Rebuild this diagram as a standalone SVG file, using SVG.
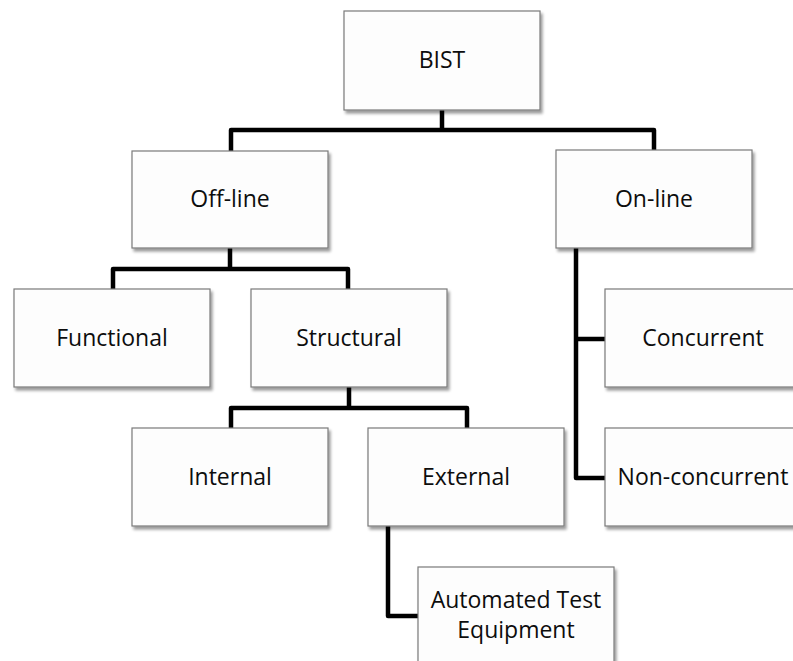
<svg xmlns="http://www.w3.org/2000/svg" width="793" height="661" viewBox="0 0 793 661">
  <defs>
    <filter id="shadow" x="-10%" y="-10%" width="125%" height="130%">
      <feGaussianBlur in="SourceAlpha" stdDeviation="1.5"/>
      <feOffset dx="1.5" dy="2.5" result="off"/>
      <feComponentTransfer><feFuncA type="linear" slope="0.4"/></feComponentTransfer>
      <feMerge><feMergeNode/><feMergeNode in="SourceGraphic"/></feMerge>
    </filter>
  </defs>
  <style>
    .box { fill: #fdfdfd; stroke: #7a7a7a; stroke-width: 1.2; filter: url(#shadow); }
    .label { font-family: "Open Sans", "Noto Sans", sans-serif; font-size: 23px; fill: #0d0d0d; text-anchor: middle; }
    .wire { fill: none; stroke: #000; stroke-width: 4.5; stroke-linejoin: round; stroke-linecap: butt; }
  </style>
  <rect width="793" height="661" fill="#fff"/>

  <g id="connectors">
    <path class="wire" d="M442,110 V130 M231,151 V130 H654 V150"/>
    <path class="wire" d="M230,248 V269 M113,289 V269 H348 V289"/>
    <path class="wire" d="M349,387 V408 M231,428 V408 H467 V428"/>
    <path class="wire" d="M576,248 V478 H605 M576,339 H605"/>
    <path class="wire" d="M388,526 V616 H418"/>
  </g>

  <g id="bist">
    <rect class="box" x="344" y="11" width="196" height="99"/>
    <text class="label" x="442" y="68">BIST</text>
  </g>
  <g id="offline">
    <rect class="box" x="132" y="151" width="196" height="97"/>
    <text class="label" x="230" y="207">Off-line</text>
  </g>
  <g id="online">
    <rect class="box" x="556" y="150" width="196" height="98"/>
    <text class="label" x="654" y="207">On-line</text>
  </g>
  <g id="functional">
    <rect class="box" x="14" y="289" width="196" height="98"/>
    <text class="label" x="112" y="346">Functional</text>
  </g>
  <g id="structural">
    <rect class="box" x="251" y="289" width="196" height="98"/>
    <text class="label" x="349" y="346">Structural</text>
  </g>
  <g id="concurrent">
    <rect class="box" x="605" y="289" width="196" height="98"/>
    <text class="label" x="703" y="346">Concurrent</text>
  </g>
  <g id="internal">
    <rect class="box" x="132" y="428" width="196" height="98"/>
    <text class="label" x="230" y="485">Internal</text>
  </g>
  <g id="external">
    <rect class="box" x="368" y="428" width="196" height="98"/>
    <text class="label" x="466" y="485">External</text>
  </g>
  <g id="nonconcurrent">
    <rect class="box" x="605" y="428" width="196" height="98"/>
    <text class="label" x="703" y="485">Non-concurrent</text>
  </g>
  <g id="ate">
    <rect class="box" x="418" y="567" width="196" height="98"/>
    <text class="label" x="516" y="608">Automated Test</text>
    <text class="label" x="516" y="638">Equipment</text>
  </g>
</svg>
